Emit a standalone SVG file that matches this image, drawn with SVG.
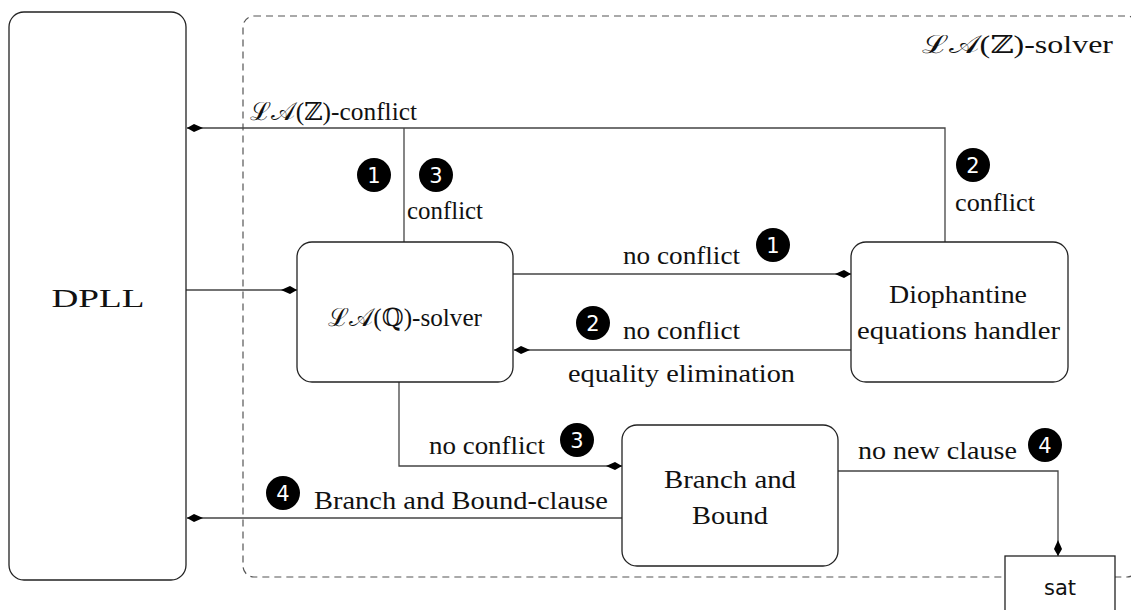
<svg xmlns="http://www.w3.org/2000/svg" width="1131" height="610" viewBox="0 0 1131 610">
<style>
.box{fill:#fff;stroke:#222;stroke-width:1.3}
.ln{fill:none;stroke:#444;stroke-width:1.3}
.t{font-family:"Liberation Serif","DejaVu Serif",serif;font-size:25px;fill:#111}
.num circle{fill:#000}
.num text{font-family:"DejaVu Sans","Liberation Sans",sans-serif;font-size:21px;fill:#fff;text-anchor:middle}
</style>
<defs>
<marker id="ah" markerUnits="userSpaceOnUse" markerWidth="17" markerHeight="10" viewBox="-16 -5 17 10" refX="0" refY="0" orient="auto">
<path d="M0,0 L-7,-4 L-16,0 L-7,4 Z" fill="#000"/>
</marker>
</defs>
<rect width="1131" height="610" fill="#fff"/>

<g id="lazsolver">
<rect x="243" y="16" width="895" height="561" rx="11" fill="none" stroke="#555" stroke-width="1.2" stroke-dasharray="7,5"/>
<text class="t" x="1113" y="53" font-size="29" text-anchor="end" textLength="191" lengthAdjust="spacingAndGlyphs">ℒ𝒜(ℤ)-solver</text>
</g>

<g id="connectors">
<polyline class="ln" points="945,242 945,128 187,128" marker-end="url(#ah)"/>
<line class="ln" x1="404" y1="242" x2="404" y2="128"/>
<line class="ln" x1="186" y1="290" x2="297" y2="290" marker-end="url(#ah)"/>
<line class="ln" x1="513" y1="274" x2="851" y2="274" marker-end="url(#ah)"/>
<line class="ln" x1="851" y1="350" x2="514" y2="350" marker-end="url(#ah)"/>
<polyline class="ln" points="399,382 399,466 622,466" marker-end="url(#ah)"/>
<line class="ln" x1="622" y1="518" x2="187" y2="518" marker-end="url(#ah)"/>
<polyline class="ln" points="838,471 1058,471 1058,556" marker-end="url(#ah)"/>
</g>

<g id="labels">
<text class="t" x="250" y="120" textLength="167" lengthAdjust="spacingAndGlyphs">ℒ𝒜(ℤ)-conflict</text>
<text class="t" x="407" y="219" textLength="76" lengthAdjust="spacingAndGlyphs">conflict</text>
<text class="t" x="955" y="211" textLength="80" lengthAdjust="spacingAndGlyphs">conflict</text>
<text class="t" x="623" y="264" textLength="117" lengthAdjust="spacingAndGlyphs">no conflict</text>
<text class="t" x="623" y="339" textLength="117" lengthAdjust="spacingAndGlyphs">no conflict</text>
<text class="t" x="568" y="382" textLength="227" lengthAdjust="spacingAndGlyphs">equality elimination</text>
<text class="t" x="429" y="454" textLength="116" lengthAdjust="spacingAndGlyphs">no conflict</text>
<text class="t" x="314" y="509" textLength="294" lengthAdjust="spacingAndGlyphs">Branch and Bound-clause</text>
<text class="t" x="858" y="459" textLength="159" lengthAdjust="spacingAndGlyphs">no new clause</text>
</g>

<g id="numbers" class="num">
<g><circle cx="374" cy="175" r="17"/><text x="374" y="182.5">1</text></g>
<g><circle cx="436" cy="175" r="17"/><text x="436" y="182.5">3</text></g>
<g><circle cx="973" cy="165" r="17"/><text x="973" y="172.5">2</text></g>
<g><circle cx="773" cy="245" r="17"/><text x="773" y="252.5">1</text></g>
<g><circle cx="593" cy="323" r="17"/><text x="593" y="330.5">2</text></g>
<g><circle cx="577" cy="440" r="17"/><text x="577" y="447.5">3</text></g>
<g><circle cx="1045" cy="445" r="17"/><text x="1045" y="452.5">4</text></g>
<g><circle cx="283" cy="493" r="17"/><text x="283" y="500.5">4</text></g>
</g>

<g id="dpll">
<rect class="box" x="9" y="12" width="177" height="568" rx="15"/>
<text class="t" x="98" y="307" font-size="34" text-anchor="middle" textLength="93" lengthAdjust="spacingAndGlyphs">DPLL</text>
</g>

<g id="laqsolver">
<rect class="box" x="297" y="242" width="216" height="140" rx="15"/>
<text class="t" x="328" y="326" textLength="154" lengthAdjust="spacingAndGlyphs">ℒ𝒜(ℚ)-solver</text>
</g>

<g id="diophantine">
<rect class="box" x="851" y="242" width="217" height="140" rx="15"/>
<text class="t" x="958" y="303" text-anchor="middle" textLength="138" lengthAdjust="spacingAndGlyphs">Diophantine</text>
<text class="t" x="857" y="339" textLength="203" lengthAdjust="spacingAndGlyphs">equations handler</text>
</g>

<g id="branchbound">
<rect class="box" x="622" y="425" width="216" height="141" rx="15"/>
<text class="t" x="730" y="488" text-anchor="middle" textLength="132" lengthAdjust="spacingAndGlyphs">Branch and</text>
<text class="t" x="730" y="524" text-anchor="middle" textLength="76" lengthAdjust="spacingAndGlyphs">Bound</text>
</g>

<g id="sat">
<rect class="box" x="1005" y="556" width="110" height="60"/>
<text x="1060" y="595" text-anchor="middle" font-family="DejaVu Sans,Liberation Sans,sans-serif" font-size="21" fill="#111">sat</text>
</g>
</svg>
